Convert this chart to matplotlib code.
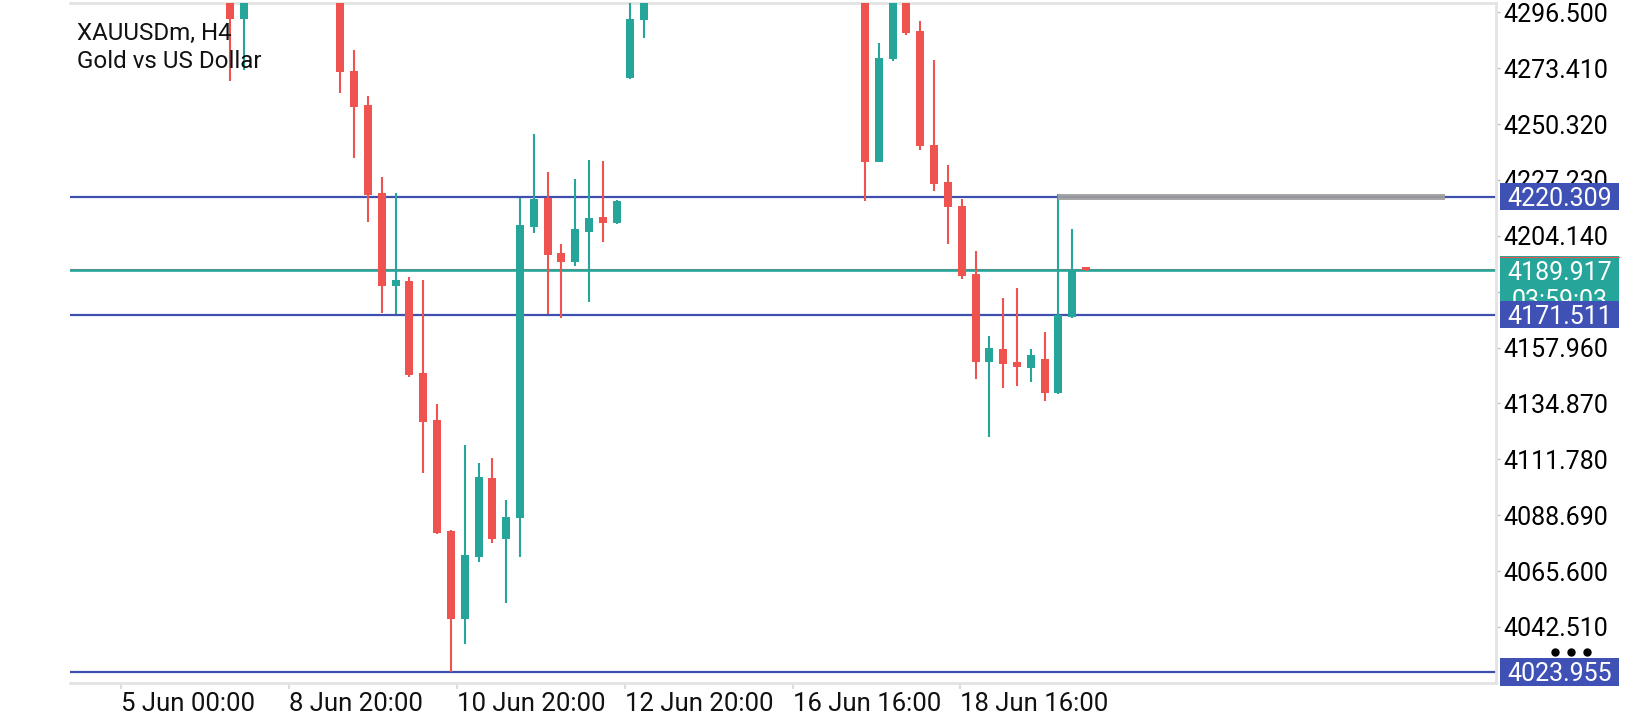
import matplotlib
matplotlib.use("Agg")
import matplotlib.pyplot as plt
import matplotlib.transforms as mtransforms
from matplotlib.patches import Rectangle
from matplotlib.lines import Line2D

plt.rcParams['font.family'] = ['Roboto', 'DejaVu Sans']

# ---------------- data ----------------
symbol_title = "XAUUSDm, H4"
symbol_desc = "Gold vs US Dollar"

N = None
# H4 bars (index 0..62); None = bar outside the visible price range
opens = [4310.0, 4293.9, N, N, N, N, N, N, 4318.0, 4272.2, 4258.2, 4222.0, 4183.5, 4185.5, 4147.5,
         4128.0, 4082.0, 4045.9, 4071.5, 4104.1, 4078.9, 4087.7, 4207.9, 4219.8, 4196.9, 4193.4,
         4205.8, 4211.9, 4209.6, 4269.5, 4293.4,
         N, N, N, N, N, N, N, N, N, N, N, N, N, N, N,
         4315.0, 4234.8, 4277.2, 4306.0, 4288.8, 4241.7, 4226.4, 4216.6, 4188.4, 4152.1, 4157.4,
         4152.1, 4149.6, 4153.2, 4139.1, 4170.7, 4191.1]
highs = [4314.0, 4309.0, N, N, N, N, N, N, 4322.0, 4280.9, 4261.9, 4228.3, 4221.7, 4187.0, 4185.9,
         4134.6, 4082.4, 4117.7, 4110.1, 4112.2, 4095.0, 4219.9, 4246.2, 4230.5, 4200.6, 4227.6,
         4235.5, 4235.1, 4218.9, 4312.0, 4312.0,
         N, N, N, N, N, N, N, N, N, N, N, N, N, N, N,
         4318.0, 4283.9, 4309.0, 4310.0, 4292.9, 4276.8, 4233.5, 4219.4, 4198.0, 4162.7, 4178.6,
         4182.7, 4157.4, 4164.4, 4221.4, 4207.0, 4191.4]
lows = [4268.2, 4272.7, N, N, N, N, N, N, 4263.0, 4236.4, 4210.0, 4172.4, 4171.7, 4145.7, 4106.3,
        4080.9, 4023.955, 4035.5, 4069.5, 4077.1, 4052.5, 4071.5, 4205.2, 4171.7, 4170.1, 4191.8,
        4176.9, 4201.7, 4209.0, 4268.9, 4285.8,
        N, N, N, N, N, N, N, N, N, N, N, N, N, N, N,
        4218.7, 4234.6, 4276.4, 4287.1, 4239.6, 4222.7, 4200.8, 4186.4, 4145.0, 4121.1, 4141.4,
        4142.2, 4143.7, 4136.0, 4138.9, 4170.3, 4189.8]
closes = [4293.9, 4306.0, N, N, N, N, N, N, 4271.7, 4257.5, 4221.0, 4183.5, 4185.8, 4146.6, 4127.3,
          4081.2, 4045.9, 4072.2, 4104.5, 4078.9, 4088.0, 4208.6, 4219.4, 4196.3, 4193.2, 4207.0,
          4211.4, 4209.6, 4218.5, 4293.7, 4308.0,
          N, N, N, N, N, N, N, N, N, N, N, N, N, N, N,
          4234.8, 4277.5, 4305.0, 4288.1, 4241.4, 4225.7, 4215.9, 4187.5, 4152.1, 4157.9, 4151.2,
          4150.1, 4155.0, 4139.1, 4171.4, 4189.6, 4189.917]

time_tick_pos = [-7.9, 4.27, 16.42, 28.6, 40.75, 52.9]
time_tick_labels = ["5 Jun 00:00", "8 Jun 20:00", "10 Jun 20:00", "12 Jun 20:00",
                    "16 Jun 16:00", "18 Jun 16:00"]
price_ticks = [4042.51, 4065.60, 4088.69, 4111.78, 4134.87, 4157.96,
               4181.05, 4204.14, 4227.23, 4250.32, 4273.41, 4296.50]
level_lines = [4220.309, 4171.511, 4023.955]
bid_price = 4189.917
ask_price = 4190.4
timer_text = "03:59:03"
rect_x0, rect_x1, rect_low, rect_high = 60, 88, 4218.9, 4221.4

# ---------------- style ----------------
UP = '#26A69A'
DOWN = '#EF5350'
BLUE_LINE = '#3F4FAF'
BLUE_BOX = '#3F51B5'
FRAME = '#E3E3E3'
W, H = 1640, 720

fig = plt.figure(figsize=(W / 100, H / 100), dpi=100)
fig.patch.set_facecolor('white')
ax = fig.add_axes([70 / W, 37 / H, 1426 / W, 680 / H])
ax.set_xlim(-11.59, 91.70)
ax.set_ylim(4019.36, 4300.35)

# candles
for i, (o, h, l, c) in enumerate(zip(opens, highs, lows, closes)):
    if o is None:
        continue
    col = UP if c >= o else DOWN
    ax.vlines(i, l, h, color=col, linewidth=1.5, zorder=3)
    ax.bar(i, max(abs(c - o), 0.4), bottom=min(o, c), width=0.58, color=col,
           linewidth=0, zorder=3)

# horizontal levels
for lv in level_lines:
    ax.axhline(lv, color=BLUE_LINE, linewidth=1.6, zorder=2)
ax.axhline(ask_price, color=DOWN, linewidth=0.8, zorder=2.2)
ax.axhline(bid_price, color=UP, linewidth=1.9, zorder=2.3)

# grey rectangle drawing
ax.add_patch(Rectangle((rect_x0, rect_low), rect_x1 - rect_x0, rect_high - rect_low,
                       facecolor='#9E9E9E', edgecolor='none', alpha=0.9, zorder=4))

# title
fig.text(77 / W, 1 - 33.3 / H, symbol_title, fontsize=17.4, color='#111111',
         ha='left', va='center')
fig.text(77 / W, 1 - 61.7 / H, symbol_desc, fontsize=17.4, color='#111111',
         ha='left', va='center')

# spines / axes
ax.spines['left'].set_visible(False)
for s in ['top', 'bottom', 'right']:
    ax.spines[s].set_color(FRAME)
    ax.spines[s].set_linewidth(2.0)

ax.yaxis.tick_right()
ax.set_yticks(price_ticks)
ax.set_yticklabels([f"{p:.3f}" for p in price_ticks])
ax.tick_params(axis='y', length=3, width=1.0, color='#BDBDBD', pad=2.5,
               labelsize=18, labelcolor='black')
ax.set_xticks(time_tick_pos)
ax.set_xticklabels(time_tick_labels)
ax.tick_params(axis='x', length=4, width=1.5, color='#DDDDDD', pad=2.5,
               labelsize=18.5, labelcolor='#111111')
for lbl in ax.get_xticklabels():
    lbl.set_horizontalalignment('left')

# price label boxes (x in figure px, y in price)
blend = mtransforms.blended_transform_factory(fig.transFigure, ax.transData)
px = 2.42  # pixels per price unit
bx0, bx1 = 1500 / W, 1619 / W
bxc = (bx0 + bx1) / 2

# bid box (two lines: price + timer), partly covered by the level box below it
ax.add_patch(Rectangle((bx0, bid_price - 42 / px), bx1 - bx0, 56 / px, transform=blend,
                       facecolor=UP, edgecolor='none', clip_on=False, zorder=6))
ax.plot([bx0, bx1], [bid_price + 13.5 / px] * 2, transform=blend, color=DOWN,
        linewidth=0.8, clip_on=False, zorder=6.5)
ax.text(bxc, bid_price, f"{bid_price:.3f}", transform=blend, ha='center',
        va='center_baseline', color='white', fontsize=18, clip_on=False, zorder=7)
ax.text(bxc, bid_price - 28.5 / px, timer_text, transform=blend, ha='center',
        va='center_baseline', color='white', fontsize=18, clip_on=False, zorder=7)

for lv in level_lines:
    ax.add_patch(Rectangle((bx0, lv - 13.7 / px), bx1 - bx0, 27.4 / px, transform=blend,
                           facecolor=BLUE_BOX, edgecolor='none', clip_on=False, zorder=8))
    ax.text(bxc, lv, f"{lv:.3f}", transform=blend, ha='center', va='center_baseline',
            color='white', fontsize=18, clip_on=False, zorder=9)

# "..." menu dots
fig.add_artist(Line2D([1555 / W, 1571 / W, 1587 / W], [1 - 651.7 / H] * 3,
                      transform=fig.transFigure, marker='o', linestyle='none',
                      color='black', markersize=5))

fig.savefig("out.png", dpi=100, facecolor='white')
